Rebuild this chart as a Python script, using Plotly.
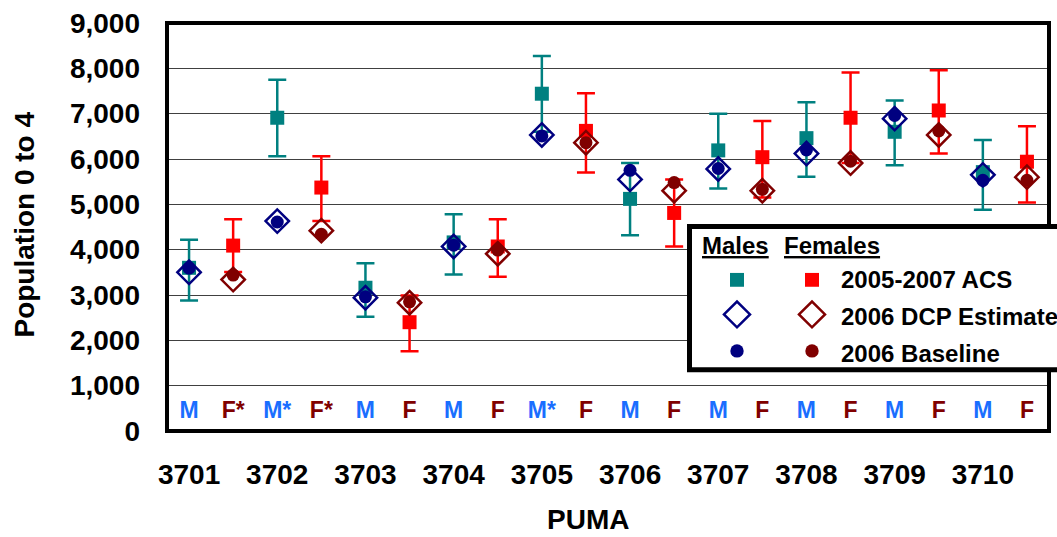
import plotly.graph_objects as go

# ---------------- data ----------------
pumas = ["3701", "3702", "3703", "3704", "3705", "3706", "3707", "3708", "3709", "3710"]
sex_labels = ["M", "F*", "M*", "F*", "M", "F", "M", "F", "M*", "F",
              "M", "F", "M", "F", "M", "F", "M", "F", "M", "F"]

male_acs = [3600, 6910, 3160, 4160, 7440, 5120, 6190, 6460, 6600, 5710]
male_acs_hi = [4220, 7750, 3700, 4780, 8270, 5910, 7000, 7250, 7290, 6420]
male_acs_lo = [2880, 6060, 2520, 3450, 6600, 4320, 5350, 5610, 5860, 4880]
male_dcp = [3500, 4630, 2940, 4070, 6530, 5550, 5780, 6120, 6890, 5650]
male_base = [3590, 4610, 2960, 4100, 6510, 5750, 5790, 6200, 6960, 5530]

female_acs = [4090, 5370, 2400, 4070, 6620, 4810, 6040, 6910, 7070, 5940]
female_acs_hi = [4670, 6060, 2990, 4670, 7450, 5550, 6840, 7910, 7960, 6720]
female_acs_lo = [3510, 4630, 1760, 3400, 5700, 4070, 5150, 5910, 6120, 5040]
female_dcp = [3340, 4420, 2830, 3910, 6360, 5300, 5300, 5910, 6530, 5600]
female_base = [3440, 4340, 2850, 3990, 6360, 5480, 5330, 5950, 6620, 5530]

# ---------------- styling ----------------
TEAL = "#008080"
RED = "#FF0000"
NAVY = "#000080"
MAROON = "#800000"
MBLUE = "#1A6EFF"
FONT = "Liberation Sans, Arial, sans-serif"

W, H = 1057, 537
L, R, T, B = 167, 8, 18, 106
PW, PH = W - L - R, H - T - B

male_cat = [p + " M" for p in pumas]
female_cat = [p + " F" for p in pumas]
categories = [c for pair in zip(male_cat, female_cat) for c in pair]


def err(vals, hi, lo):
    return dict(type="data", symmetric=False,
                array=[h - v for v, h in zip(vals, hi)],
                arrayminus=[v - l for v, l in zip(vals, lo)])


fig = go.Figure()

fig.add_trace(go.Scatter(
    x=male_cat, y=male_acs, mode="markers",
    marker=dict(symbol="square", size=14, color=TEAL),
    error_y=dict(**err(male_acs, male_acs_hi, male_acs_lo), color=TEAL, thickness=2.5, width=9)))
fig.add_trace(go.Scatter(
    x=female_cat, y=female_acs, mode="markers",
    marker=dict(symbol="square", size=14, color=RED),
    error_y=dict(**err(female_acs, female_acs_hi, female_acs_lo), color=RED, thickness=2.5, width=9)))
fig.add_trace(go.Scatter(
    x=male_cat, y=male_dcp, mode="markers",
    marker=dict(symbol="diamond-open", size=18, color=NAVY, line=dict(width=2.5, color=NAVY))))
fig.add_trace(go.Scatter(
    x=female_cat, y=female_dcp, mode="markers",
    marker=dict(symbol="diamond-open", size=18, color=MAROON, line=dict(width=2.5, color=MAROON))))
fig.add_trace(go.Scatter(
    x=male_cat, y=male_base, mode="markers",
    marker=dict(symbol="circle", size=13, color=NAVY)))
fig.add_trace(go.Scatter(
    x=female_cat, y=female_base, mode="markers",
    marker=dict(symbol="circle", size=13, color=MAROON)))

# M / F labels inside the plot
fig.add_trace(go.Scatter(
    x=categories, y=[420] * len(categories), mode="text", text=sex_labels,
    textposition="middle center",
    textfont=dict(family=FONT, size=23, color=[MBLUE if s.startswith("M") else MAROON for s in sex_labels],
                  weight="bold")))


def px(x):
    return (x - L) / PW


def py(y):
    return (H - B - y) / PH


shapes = []
# plot border
shapes.append(dict(type="rect", xref="paper", yref="paper", x0=0, x1=1, y0=0, y1=1,
                   line=dict(color="black", width=4), layer="above"))
# legend box
shapes.append(dict(type="rect", xref="paper", yref="paper",
                   x0=px(689.5), x1=px(1070), y0=py(369), y1=py(224),
                   line=dict(color="black", width=5), fillcolor="white", layer="above"))

# legend keys
colx = [737, 812]
key_cols = [(TEAL, NAVY), (RED, MAROON)]
for cx, (acs_c, est_c) in zip(colx, key_cols):
    s = 7
    shapes.append(dict(type="rect", xref="paper", yref="paper",
                       x0=px(cx - s), x1=px(cx + s), y0=py(278 + s), y1=py(278 - s),
                       line=dict(width=0), fillcolor=acs_c, layer="above"))
    d = 13
    cy = 313
    path = "M {},{} L {},{} L {},{} L {},{} Z".format(
        px(cx - d), py(cy), px(cx), py(cy - d), px(cx + d), py(cy), px(cx), py(cy + d))
    shapes.append(dict(type="path", xref="paper", yref="paper", path=path,
                       line=dict(color=est_c, width=2.5), layer="above"))
    r = 6.7
    cy = 350
    shapes.append(dict(type="circle", xref="paper", yref="paper",
                       x0=px(cx - r), x1=px(cx + r), y0=py(cy + r), y1=py(cy - r),
                       line=dict(width=0), fillcolor=est_c, layer="above"))

annotations = []
for txt, cx in [("Males", 735.5), ("Females", 831.5)]:
    annotations.append(dict(text="<u>" + txt + "</u>", xref="paper", yref="paper",
                            x=px(cx), y=py(243), xanchor="center", yanchor="middle",
                            showarrow=False, font=dict(family=FONT, size=24, color="black", weight="bold")))
for txt, cy in [("2005-2007 ACS", 278), ("2006 DCP Estimate", 315.5), ("2006 Baseline", 353)]:
    annotations.append(dict(text=txt, xref="paper", yref="paper",
                            x=px(839), y=py(cy), xanchor="left", yanchor="middle",
                            showarrow=False, font=dict(family=FONT, size=24, color="black", weight="bold")))
# axis titles
annotations.append(dict(text="PUMA", xref="paper", yref="paper", x=px(588), y=py(521),
                        xanchor="center", yanchor="middle", showarrow=False,
                        font=dict(family=FONT, size=28, color="black", weight="bold")))
annotations.append(dict(text="Population 0 to 4", xref="paper", yref="paper", x=px(25), y=py(222),
                        xanchor="center", yanchor="middle", showarrow=False, textangle=-90,
                        font=dict(family=FONT, size=28, color="black", weight="bold")))

fig.update_layout(
    width=W, height=H,
    margin=dict(l=L, r=R, t=T, b=B, pad=0),
    paper_bgcolor="white", plot_bgcolor="white",
    showlegend=False,
    shapes=shapes, annotations=annotations,
    xaxis=dict(type="category", categoryorder="array", categoryarray=categories,
               range=[-0.5, len(categories) - 0.5],
               tickmode="array", tickvals=male_cat, ticktext=pumas,
               showgrid=False, zeroline=False, showline=False, ticks="",
               ticklabelstandoff=24,
               tickfont=dict(family=FONT, size=28, color="black", weight="bold")),
    yaxis=dict(range=[0, 9000], dtick=1000, tickformat=",",
               showgrid=True, gridcolor="#404040", gridwidth=1,
               zeroline=False, showline=False, ticks="",
               ticklabelstandoff=26, ticklabeloverflow="allow",
               tickfont=dict(family=FONT, size=28, color="black", weight="bold")),
)

fig.write_html("out.html", config={"displayModeBar": False},
               post_script="document.body.style.margin='0px';document.body.style.overflow='hidden';")
